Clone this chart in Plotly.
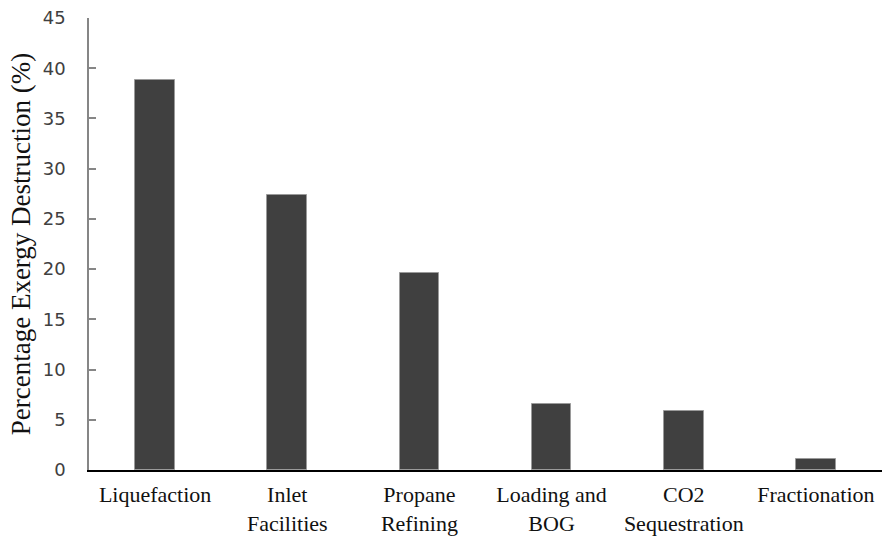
import plotly.graph_objects as go

categories = ["Liquefaction", "Inlet<br>Facilities", "Propane<br>Refining",
              "Loading and<br>BOG", "CO2<br>Sequestration", "Fractionation"]
values = [38.8, 27.4, 19.6, 6.6, 5.9, 1.1]
y_ticks = [0, 5, 10, 15, 20, 25, 30, 35, 40, 45]

fig = go.Figure(go.Bar(
    x=list(range(len(categories))), y=values,
    width=0.30,
    marker=dict(color="#404040", line=dict(color="#9a9a9a", width=1)),
))

fig.update_layout(
    width=882, height=536,
    margin=dict(l=89, r=0, t=18, b=66),
    paper_bgcolor="white", plot_bgcolor="white",
    showlegend=False,
    bargap=0,
)
fig.update_xaxes(
    range=[-0.5, 5.5], automargin=False,
    tickmode="array", tickvals=list(range(len(categories))), ticktext=categories,
    showline=True, linecolor="#000000", linewidth=1.5,
    ticks="", showgrid=False, zeroline=False,
    tickfont=dict(family="Liberation Serif, Times New Roman, serif", size=22, color="#111111"),
    ticklabelstandoff=4,
)
fig.update_yaxes(
    range=[0, 45], automargin=False,
    tickmode="array", tickvals=y_ticks,
    showline=True, linecolor="#868686", linewidth=1.5,
    ticks="inside", ticklen=7, tickcolor="#868686", tickwidth=1.5,
    showgrid=False, zeroline=False,
    tickfont=dict(family="DejaVu Sans, sans-serif", size=18, color="#404040"),
    ticklabelstandoff=18,
    title=dict(text="Percentage Exergy Destruction (%)",
               font=dict(family="Liberation Serif, Times New Roman, serif", size=27, color="#111111"),
               standoff=4),
)

fig.write_html("out.html", config={"displayModeBar": False},
               post_script="document.body.style.margin='0';")
